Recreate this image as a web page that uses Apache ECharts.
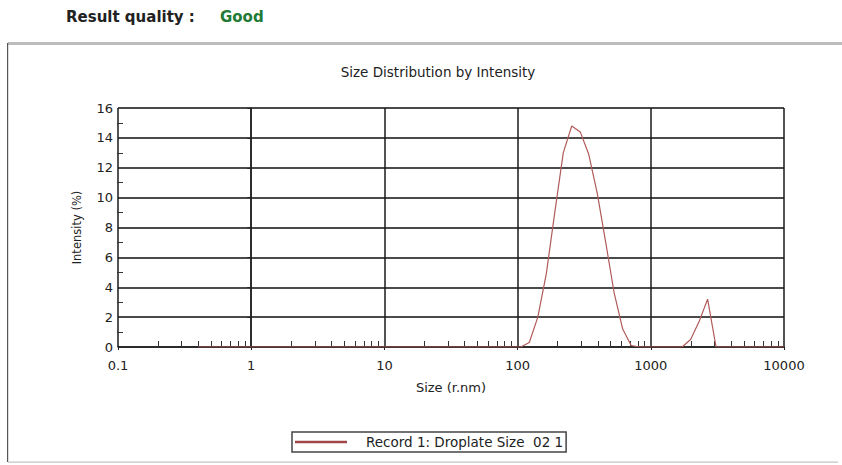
<!DOCTYPE html>
<html>
<head>
<meta charset="utf-8">
<script src="https://cdn.jsdelivr.net/npm/echarts@6/dist/echarts.min.js"></script>
<style>
html,body{margin:0;padding:0;background:#fff;}
#chart{width:842px;height:465px;}
</style>
</head>
<body>
<div id="chart"></div>
<script>
// Size bins (r.nm)
const sizes = [0.4, 0.4632, 0.5365, 0.6213, 0.7195, 0.8332, 0.9649, 1.117, 1.294, 1.499,
  1.736, 2.01, 2.328, 2.696, 3.122, 3.615, 4.187, 4.849, 5.615, 6.503,
  7.531, 8.721, 10.1, 11.7, 13.54, 15.69, 18.17, 21.04, 24.36, 28.21,
  32.67, 37.84, 43.82, 50.75, 58.77, 68.06, 78.82, 91.28, 105.7, 122.4,
  141.8, 164.2, 190.1, 220.2, 255.0, 295.3, 342.0, 396.1, 458.7, 531.2,
  615.1, 712.4, 825.0, 955.4, 1106, 1281, 1484, 1718, 1990, 2305,
  2669, 3091, 3580, 4145, 4801, 5560, 6439, 7456, 8635, 10000];
// Intensity (%)
const intensity = [0, 0, 0, 0, 0, 0, 0, 0, 0, 0,
  0, 0, 0, 0, 0, 0, 0, 0, 0, 0,
  0, 0, 0, 0, 0, 0, 0, 0, 0, 0,
  0, 0, 0, 0, 0, 0, 0, 0, 0, 0.3,
  2.0, 4.9, 9.0, 13.0, 14.8, 14.4, 12.9, 10.3, 7.0, 3.6,
  1.2, 0.1, 0, 0, 0, 0, 0, 0, 0.5, 1.7,
  3.2, 0, 0, 0, 0, 0, 0, 0, 0, 0];
const seriesName = 'Record 1: Droplate Size  02 1';
const xTickLabels = ['0.1', '1', '10', '100', '1000', '10000'];
const xMinorTicks = [0.2, 0.3, 0.4, 0.5, 0.6, 0.7, 0.8, 0.9,
  2, 3, 4, 5, 6, 7, 8, 9,
  20, 30, 40, 50, 60, 70, 80, 90,
  200, 300, 400, 500, 600, 700, 800, 900,
  2000, 3000, 4000, 5000, 6000, 7000, 8000, 9000];
const yMinorTicks = [1, 3, 5, 7, 9, 11, 13, 15];
const chartTitle = 'Size Distribution by Intensity';
const xName = 'Size (r.nm)';
const yName = 'Intensity (%)';
const headerLabel = 'Result quality :';
const headerValue = 'Good';

const FONT = 'DejaVu Sans';
const chart = echarts.init(document.getElementById('chart'), null, {renderer: 'svg'});
const data = sizes.map((s, i) => [s, intensity[i]]);

chart.setOption({
  animation: false,
  backgroundColor: '#fff',
  title: {
    text: chartTitle,
    left: 433, top: 60, textAlign: 'center',
    textStyle: {fontFamily: FONT, fontSize: 13.5, fontWeight: 'normal', color: '#222'}
  },
  graphic: [
    {type: 'rect', shape: {x: 8, y: 42, width: 834, height: 3}, style: {fill: '#bcbcbc'}, silent: true},
    {type: 'rect', shape: {x: 7, y: 43, width: 1.2, height: 419}, style: {fill: '#555'}, silent: true},
    {type: 'rect', shape: {x: 8, y: 461.5, width: 830, height: 1.2}, style: {fill: '#c4c4c4'}, silent: true},
    {type: 'text', left: 66, top: 9, style: {text: headerLabel, font: 'bold 15px "DejaVu Sans"', fill: '#222'}},
    {type: 'text', left: 220, top: 9, style: {text: headerValue, font: 'bold 15px "DejaVu Sans"', fill: '#217a35'}}
  ],
  legend: {
    left: 292, top: 432,
    padding: [3, 3, 3, 3],
    borderColor: '#444', borderWidth: 1.5,
    itemWidth: 52, itemHeight: 2.5,
    icon: 'rect',
    data: [seriesName],
    textStyle: {fontFamily: FONT, fontSize: 13.5, color: '#222', padding: [0, 0, 0, 14]}
  },
  grid: {left: 118, right: 58, top: 108, bottom: 118, containLabel: false},
  xAxis: [
    {
      type: 'log', logBase: 10, min: 0.1, max: 10000,
      name: xName, nameLocation: 'middle', nameGap: 34,
      nameTextStyle: {fontFamily: FONT, fontSize: 13, color: '#222'},
      axisLine: {show: true, lineStyle: {color: '#222', width: 1.5}},
      axisTick: {show: true, length: 3, lineStyle: {color: '#222'}},
      axisLabel: {
        margin: 12, fontFamily: FONT, fontSize: 13, color: '#222',
        formatter: v => {
          const idx = Math.round(Math.log10(v)) + 1;
          return xTickLabels[idx] !== undefined ? xTickLabels[idx] : String(v);
        }
      },
      splitLine: {show: true, lineStyle: {color: '#1a1a1a', width: 1.5}}
    },
    {
      type: 'value', min: -1, max: 4, position: 'bottom', offset: 3,
      axisLine: {show: false},
      axisLabel: {show: false},
      splitLine: {show: false},
      axisTick: {show: true, inside: true, length: 6, customValues: xMinorTicks.map(v => Math.log10(v)),
        lineStyle: {color: '#333', width: 1}}
    }
  ],
  yAxis: [
    {
      type: 'value', min: 0, max: 16, interval: 2,
      name: yName, nameLocation: 'middle', nameGap: 35, nameRotate: 90,
      nameTextStyle: {fontFamily: FONT, fontSize: 11.5, color: '#222'},
      axisLine: {show: true, lineStyle: {color: '#222', width: 1.5}},
      axisTick: {show: true, length: 4, lineStyle: {color: '#222'}},
      axisLabel: {margin: 5, fontFamily: FONT, fontSize: 13, color: '#222'},
      splitLine: {show: true, lineStyle: {color: '#4a4a4a', width: 2}}
    },
    {
      type: 'value', min: 0, max: 16, position: 'left', offset: 1,
      axisLine: {show: false},
      axisLabel: {show: false},
      splitLine: {show: false},
      axisTick: {show: true, inside: true, length: 6, customValues: yMinorTicks,
        lineStyle: {color: '#333', width: 1}}
    }
  ],
  series: [{
    name: seriesName,
    type: 'line',
    xAxisIndex: 0, yAxisIndex: 0,
    data: data,
    showSymbol: false,
    symbol: 'none',
    color: '#a65353',
    lineStyle: {color: '#b05a5a', width: 1.2},
    itemStyle: {color: '#a04848'},
    z: 5
  }]
});
</script>
</body>
</html>
